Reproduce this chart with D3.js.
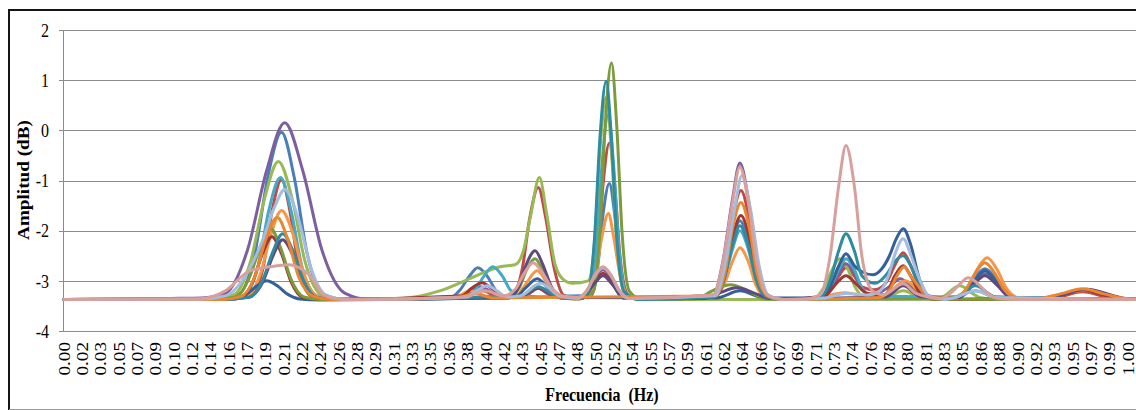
<!DOCTYPE html>
<html>
<head>
<meta charset="utf-8">
<script src="https://cdnjs.cloudflare.com/ajax/libs/d3/7.8.5/d3.min.js"></script>
<style>
    body { margin: 0; background: #fff; }
    text { font-family: 'Liberation Serif', 'Times New Roman', serif; fill: #000; }
</style>
</head>
<body>
<div id="chart"></div>
<script>
'use strict';

// axis values
const Y_TICKS = [2, 1, 0, -1, -2, -3, -4];
const X_LABELS = ['0.00', '0.02', '0.03', '0.05', '0.07', '0.09', '0.10', '0.12', '0.14', '0.16',
    '0.17', '0.19', '0.21', '0.22', '0.24', '0.26', '0.28', '0.29', '0.31', '0.33',
    '0.35', '0.36', '0.38', '0.40', '0.42', '0.43', '0.45', '0.47', '0.48', '0.50',
    '0.52', '0.54', '0.55', '0.57', '0.59', '0.61', '0.62', '0.64', '0.66', '0.67',
    '0.69', '0.71', '0.73', '0.74', '0.76', '0.78', '0.80', '0.81', '0.83', '0.85',
    '0.86', '0.88', '0.90', '0.92', '0.93', '0.95', '0.97', '0.99', '1.00'];
const X_LAST = 1.0028; // real frequency under the last label

// series: [frecuencia (Hz), amplitud (dB)]
const sBlue = [[0, -3.37], [0.128, -3.36], [0.165, -3.26], [0.180, -2.44], [0.192, -0.94], [0.205, -0.04], [0.217, -0.94], [0.229, -2.44], [0.244, -3.26], [0.265, -3.37],
    [0.363, -3.35], [0.373, -3.19], [0.382, -2.91], [0.390, -2.74], [0.399, -2.91], [0.407, -3.19], [0.418, -3.33],
    [0.434, -3.3], [0.447, -3.15], [0.460, -3.3],
    [0.497, -3.29], [0.503, -2.72], [0.508, -1.68], [0.514, -1.06], [0.519, -1.68], [0.524, -2.72], [0.531, -3.29], [0.543, -3.36],
    [0.613, -3.32], [0.622, -2.93], [0.630, -2.22], [0.637, -1.8], [0.645, -2.22], [0.652, -2.93], [0.662, -3.32], [0.675, -3.37],
    [0.839, -3.35], [0.850, -3.2], [0.859, -2.92], [0.868, -2.76], [0.877, -2.92], [0.886, -3.2], [0.897, -3.35], [1.02, -3.37]];

const sRed = [[0, -3.37], [0.15, -3.36], [0.177, -3.29], [0.188, -2.70], [0.196, -1.62], [0.205, -0.98], [0.213, -1.62], [0.221, -2.70], [0.232, -3.29], [0.246, -3.37],
    [0.37, -3.34], [0.395, -3.2], [0.41, -3.33],
    [0.422, -3.29], [0.432, -2.75], [0.439, -1.74], [0.447, -1.14], [0.454, -1.74], [0.462, -2.75], [0.471, -3.29], [0.482, -3.36],
    [0.497, -3.26], [0.503, -2.50], [0.508, -1.09], [0.514, -0.25], [0.519, -1.09], [0.524, -2.50], [0.531, -3.26], [0.543, -3.37],
    [0.614, -3.30], [0.623, -2.76], [0.630, -1.79], [0.638, -1.2], [0.646, -1.79], [0.653, -2.76], [0.663, -3.30], [0.675, -3.37],
    [0.713, -3.35], [0.722, -3.19], [0.730, -2.91], [0.737, -2.74], [0.745, -2.91], [0.752, -3.12], [0.764, -3.18],
    [0.776, -3.0], [0.783, -2.69], [0.791, -2.44], [0.798, -2.69], [0.806, -3.11], [0.815, -3.34], [0.830, -3.37],
    [0.929, -3.36], [0.960, -3.22], [0.991, -3.36], [1.02, -3.37]];

const sGreen = [[0, -3.37], [0.14, -3.36], [0.160, -3.28], [0.176, -2.60], [0.189, -1.36], [0.202, -0.62], [0.215, -1.36], [0.227, -2.60], [0.243, -3.28], [0.265, -3.37],
    [0.317, -3.35], [0.354, -3.2], [0.383, -2.95], [0.402, -2.78], [0.411, -2.72], [0.425, -2.68], [0.433, -2.4], [0.440, -1.68], [0.448, -0.94], [0.455, -1.68], [0.463, -2.69], [0.472, -3.0], [0.479, -3.05],
    [0.494, -3.0], [0.500, -2.24], [0.505, -0.43], [0.511, 0.66], [0.516, -0.43], [0.521, -2.24], [0.528, -3.23], [0.543, -3.37],
    [0.700, -3.37], [0.708, -3.34], [0.716, -3.14], [0.724, -2.78], [0.731, -2.56], [0.739, -2.78], [0.746, -3.14], [0.756, -3.34],
    [0.774, -3.33], [0.791, -3.2], [0.808, -3.33],
    [0.826, -3.33], [0.844, -3.1], [0.863, -3.33], [0.88, -3.37], [1.02, -3.37]];

const sPurple = [[0, -3.37], [0.10, -3.35], [0.13, -3.34], [0.152, -3.25], [0.173, -2.38], [0.191, -0.8], [0.208, 0.15], [0.225, -0.8], [0.243, -2.38], [0.265, -3.25], [0.288, -3.37],
    [0.373, -3.3], [0.392, -3.12], [0.411, -3.3],
    [0.434, -3.3], [0.447, -3.15], [0.460, -3.3],
    [0.484, -3.35], [0.493, -3.2], [0.500, -2.94], [0.508, -2.78], [0.516, -2.94], [0.523, -3.2], [0.532, -3.35],
    [0.612, -3.28], [0.621, -2.61], [0.630, -1.38], [0.637, -0.65], [0.645, -1.38], [0.653, -2.61], [0.663, -3.28], [0.677, -3.37],
    [0.713, -3.35], [0.722, -3.17], [0.730, -2.85], [0.737, -2.66], [0.745, -2.85], [0.752, -3.17], [0.762, -3.28],
    [0.779, -3.1], [0.788, -2.96], [0.798, -3.1], [0.809, -3.28],
    [0.840, -3.35], [0.850, -3.23], [0.859, -3.0], [0.868, -2.86], [0.877, -3.0], [0.886, -3.23], [0.897, -3.35], [1.02, -3.37]];

const sAqua = [[0, -3.37], [0.15, -3.37], [0.170, -3.29], [0.183, -2.69], [0.193, -1.6], [0.204, -0.94], [0.214, -1.6], [0.224, -2.69], [0.238, -3.29], [0.255, -3.37],
    [0.377, -3.35], [0.387, -3.19], [0.396, -2.9], [0.404, -2.72], [0.413, -2.9], [0.421, -3.19], [0.432, -3.3], [0.46, -3.32],
    [0.485, -3.33], [0.496, -3.25], [0.502, -2.34], [0.507, -0.69], [0.513, 0.3], [0.518, -0.69], [0.523, -2.34], [0.530, -3.25], [0.543, -3.37],
    [0.613, -3.32], [0.622, -2.99], [0.630, -2.37], [0.637, -2.0], [0.645, -2.37], [0.652, -2.99], [0.662, -3.32], [0.675, -3.37],
    [0.713, -3.34], [0.722, -3.14], [0.730, -2.78], [0.737, -2.56], [0.745, -2.78], [0.752, -3.14], [0.762, -3.3],
    [0.79, -3.31], [0.84, -3.32], [0.859, -3.2], [0.878, -3.32], [1.02, -3.37]];

const sOrange = [[0, -3.37], [0.15, -3.37], [0.172, -3.31], [0.185, -2.87], [0.195, -2.08], [0.205, -1.6], [0.216, -2.08], [0.226, -2.87], [0.239, -3.31], [0.255, -3.37],
    [0.369, -3.32], [0.383, -3.2], [0.397, -3.3],
    [0.425, -3.33], [0.434, -3.1], [0.446, -2.8], [0.457, -3.1], [0.467, -3.3],
    [0.486, -3.34], [0.495, -3.31], [0.501, -2.89], [0.507, -2.12], [0.513, -1.66], [0.518, -2.12], [0.524, -2.89], [0.531, -3.31], [0.543, -3.37],
    [0.613, -3.33], [0.622, -3.08], [0.630, -2.62], [0.637, -2.34], [0.645, -2.62], [0.652, -3.08], [0.662, -3.33], [0.68, -3.37],
    [0.708, -3.35], [0.736, -3.24], [0.764, -3.34],
    [0.774, -3.3], [0.793, -3.0], [0.812, -3.3],
    [0.841, -3.34], [0.852, -3.14], [0.861, -2.76], [0.870, -2.54], [0.879, -2.76], [0.888, -3.14], [0.899, -3.34], [0.912, -3.37],
    [0.920, -3.35], [0.939, -3.27], [0.962, -3.19], [0.984, -3.27], [1.0, -3.35], [1.02, -3.37]];

const sDarkBlue = [[0, -3.37], [0.14, -3.37], [0.161, -3.36], [0.172, -3.27], [0.182, -3.1], [0.191, -3.0], [0.201, -3.1], [0.211, -3.27], [0.222, -3.36], [0.24, -3.38],
    [0.425, -3.33], [0.435, -3.14], [0.446, -2.96], [0.456, -3.14], [0.467, -3.33],
    [0.615, -3.34], [0.637, -3.2], [0.66, -3.34],
    [0.713, -3.34], [0.722, -3.12], [0.730, -2.71], [0.737, -2.46], [0.745, -2.7], [0.752, -2.82], [0.762, -2.88], [0.770, -2.78], [0.778, -2.5], [0.784, -2.18], [0.791, -1.96], [0.798, -2.28], [0.806, -2.95], [0.815, -3.3], [0.830, -3.37],
    [0.843, -3.33], [0.856, -3.05], [0.868, -2.8], [0.880, -3.05], [0.894, -3.33], [1.02, -3.37]];

const sDarkRed = [[0, -3.37], [0.15, -3.37], [0.167, -3.33], [0.178, -3.02], [0.187, -2.46], [0.196, -2.12], [0.205, -2.46], [0.214, -3.02], [0.225, -3.33], [0.241, -3.37],
    [0.375, -3.3], [0.384, -3.15], [0.394, -3.04], [0.403, -3.15], [0.413, -3.3],
    [0.430, -3.32], [0.447, -3.15], [0.464, -3.32],
    [0.489, -3.34], [0.499, -3.05], [0.508, -2.85], [0.517, -3.05], [0.527, -3.34],
    [0.614, -3.31], [0.623, -2.90], [0.630, -2.15], [0.638, -1.7], [0.646, -2.15], [0.653, -2.90], [0.663, -3.31], [0.675, -3.37],
    [0.717, -3.3], [0.728, -3.05], [0.737, -2.9], [0.746, -3.05], [0.757, -3.25],
    [0.774, -3.28], [0.783, -2.9], [0.791, -2.7], [0.798, -2.9], [0.808, -3.28], [0.82, -3.37],
    [0.925, -3.35], [0.943, -3.26], [0.960, -3.18], [0.977, -3.26], [0.995, -3.35], [1.02, -3.37]];

const sOlive = [[0, -3.37], [0.14, -3.37], [0.162, -3.32], [0.174, -2.97], [0.185, -2.33], [0.194, -1.94], [0.204, -2.33], [0.214, -2.97], [0.226, -3.32], [0.241, -3.37],
    [0.419, -3.34], [0.429, -3.14], [0.436, -2.78], [0.444, -2.56], [0.451, -2.78], [0.459, -3.14], [0.468, -3.34],
    [0.485, -3.36], [0.499, -3.21], [0.505, -2.05], [0.510, 0.07], [0.516, 1.34], [0.521, 0.07], [0.526, -2.05], [0.533, -3.21], [0.545, -3.37],
    [0.595, -3.36], [0.611, -3.2], [0.628, -3.08], [0.645, -3.2], [0.661, -3.36], [1.02, -3.37]];

const sDarkPurple = [[0, -3.37], [0.15, -3.37], [0.174, -3.33], [0.187, -3.04], [0.197, -2.50], [0.206, -2.18], [0.216, -2.50], [0.226, -3.04], [0.238, -3.33], [0.255, -3.37],
    [0.419, -3.34], [0.429, -3.10], [0.436, -2.66], [0.444, -2.4], [0.451, -2.66], [0.459, -3.10], [0.468, -3.34],
    [0.489, -3.34], [0.499, -3.08], [0.508, -2.9], [0.517, -3.08], [0.527, -3.34],
    [0.604, -3.35], [0.618, -3.24], [0.634, -3.14], [0.650, -3.24], [0.665, -3.35],
    [0.774, -3.32], [0.791, -3.1], [0.808, -3.32],
    [0.844, -3.33], [0.856, -3.1], [0.868, -2.9], [0.880, -3.1], [0.892, -3.33],
    [0.925, -3.35], [0.964, -3.17], [1.0, -3.35], [1.02, -3.37]];

const sTeal = [[0, -3.37], [0.15, -3.37], [0.174, -3.33], [0.187, -3.0], [0.197, -2.41], [0.206, -2.06], [0.216, -2.41], [0.226, -3.0], [0.238, -3.33], [0.255, -3.37],
    [0.43, -3.3], [0.447, -3.12], [0.464, -3.3],
    [0.484, -3.33], [0.494, -3.22], [0.500, -2.15], [0.505, -0.19], [0.511, 0.98], [0.516, -0.19], [0.521, -2.15], [0.528, -3.22], [0.541, -3.37],
    [0.613, -3.32], [0.622, -2.96], [0.630, -2.3], [0.637, -1.9], [0.645, -2.3], [0.652, -2.96], [0.662, -3.32], [0.675, -3.37],
    [0.713, -3.33], [0.722, -3.0], [0.730, -2.41], [0.737, -2.06], [0.745, -2.41], [0.752, -2.9], [0.764, -3.05], [0.776, -2.85], [0.783, -2.62], [0.791, -2.5], [0.798, -2.7], [0.806, -3.1], [0.816, -3.33],
    [0.840, -3.32], [0.859, -3.1], [0.878, -3.32], [1.02, -3.37]];

const sDarkOrange = [[0, -3.37], [0.15, -3.37], [0.167, -3.31], [0.180, -2.91], [0.190, -2.18], [0.201, -1.74], [0.211, -2.18], [0.221, -2.91], [0.235, -3.31], [0.251, -3.37],
    [0.37, -3.34], [0.387, -3.25], [0.404, -3.34],
    [0.614, -3.30], [0.623, -2.83], [0.630, -1.96], [0.638, -1.44], [0.646, -1.96], [0.653, -2.83], [0.663, -3.30], [0.675, -3.37],
    [0.769, -3.33], [0.779, -3.15], [0.785, -2.9], [0.792, -2.72], [0.798, -2.9], [0.807, -3.15], [0.818, -3.33],
    [0.839, -3.34], [0.850, -3.17], [0.859, -2.84], [0.868, -2.64], [0.877, -2.84], [0.886, -3.17], [0.897, -3.34],
    [0.920, -3.35], [0.939, -3.26], [0.960, -3.16], [0.980, -3.26], [1.0, -3.35], [1.02, -3.37]];

const sLightBlue = [[0, -3.37], [0.13, -3.36], [0.152, -3.3], [0.171, -2.9], [0.187, -2.2], [0.199, -1.5], [0.208, -1.18], [0.221, -1.77], [0.233, -2.76], [0.248, -3.30], [0.265, -3.37],
    [0.380, -3.32], [0.389, -3.2], [0.399, -3.1], [0.408, -3.2], [0.418, -3.32],
    [0.430, -3.3], [0.449, -3.05], [0.467, -3.3],
    [0.484, -3.35], [0.493, -3.19], [0.500, -2.91], [0.508, -2.74], [0.516, -2.91], [0.523, -3.19], [0.532, -3.35],
    [0.614, -3.29], [0.623, -2.68], [0.632, -1.57], [0.639, -0.9], [0.647, -1.57], [0.655, -2.68], [0.664, -3.29], [0.680, -3.37],
    [0.717, -3.34], [0.737, -3.25], [0.757, -3.28], [0.769, -3.2], [0.777, -2.9], [0.783, -2.48], [0.791, -2.16], [0.798, -2.48], [0.806, -2.95], [0.815, -3.3], [0.830, -3.37],
    [0.840, -3.33], [0.859, -3.2], [0.878, -3.33], [1.02, -3.37]];

const sPink = [[0, -3.37], [0.128, -3.36], [0.152, -3.2], [0.175, -2.8], [0.194, -2.72], [0.211, -2.68], [0.225, -2.78], [0.234, -2.95], [0.243, -3.25], [0.255, -3.35], [0.27, -3.37],
    [0.378, -3.32], [0.397, -3.2], [0.414, -3.3],
    [0.426, -3.15], [0.434, -2.84], [0.442, -2.64], [0.451, -2.84], [0.459, -3.12], [0.470, -3.3],
    [0.484, -3.33], [0.493, -3.18], [0.500, -2.9], [0.508, -2.72], [0.516, -2.9], [0.523, -3.18], [0.533, -3.35],
    [0.612, -3.28], [0.621, -2.63], [0.630, -1.44], [0.637, -0.73], [0.645, -1.44], [0.653, -2.63], [0.663, -3.28], [0.677, -3.37],
    [0.700, -3.36], [0.713, -3.27], [0.722, -2.51], [0.730, -1.13], [0.737, -0.3], [0.745, -1.13], [0.752, -2.51], [0.762, -3.2], [0.772, -3.28],
    [0.791, -3.06], [0.803, -3.25],
    [0.826, -3.35], [0.837, -3.22], [0.845, -3.05], [0.852, -2.94], [0.861, -3.05], [0.869, -3.22], [0.880, -3.35], [0.9, -3.37], [1.02, -3.37]];

const SERIES = [sBlue, sRed, sGreen, sPurple, sAqua, sOrange, sDarkBlue, sDarkRed,
    sOlive, sDarkPurple, sTeal, sDarkOrange, sLightBlue, sPink];
const SERIES_COLORS = ['#4a7ebb', '#be4b48', '#98b954', '#7d5fa0', '#46aac5', '#f79646', '#34609a', '#9c3836',
    '#7c9c3c', '#5e4a7e', '#2e8ba0', '#ea8530', '#a3bde0', '#d8a09d'];


class Spectrum {

    constructor(_ref) {
        this.parent = _ref;
        this.initVis();
    }

    initVis() {
        const vis = this;

        // Config
        vis.w = 1136;
        vis.h = 410;
        vis.left = 64;
        vis.right = 1128;   // x of the last label
        vis.top = 30;
        vis.bottom = 331;
        vis.stretch = 'scale(1,1.2)';

        vis.svg = d3.select(`#${vis.parent}`)
            .append('svg')
            .attr('width', vis.w)
            .attr('height', vis.h);

        // Scales
        vis.xScale = d3.scaleLinear()
            .domain([0, X_LAST])
            .range([vis.left, vis.right]);

        vis.yScale = d3.scaleLinear()
            .domain([-4, 2])
            .range([vis.bottom, vis.top]);

        vis.line = d3.line()
            .x(d => vis.xScale(d[0]))
            .y(d => vis.yScale(d[1]))
            .curve(d3.curveMonotoneX);

        vis.drawFrame();
        vis.drawAxes();
        vis.updateVis();
    }

    drawFrame() {
        const vis = this;

        vis.svg.append('line')
            .attr('x1', 8).attr('x2', vis.w)
            .attr('y1', 10).attr('y2', 10)
            .attr('stroke', '#151515').attr('stroke-width', 2);

        vis.svg.append('line')
            .attr('x1', 9).attr('x2', 9)
            .attr('y1', 9).attr('y2', vis.h)
            .attr('stroke', '#151515').attr('stroke-width', 2);

        vis.svg.append('line')
            .attr('x1', 9).attr('x2', vis.w)
            .attr('y1', 409.5).attr('y2', 409.5)
            .attr('stroke', '#9a9a9a').attr('stroke-width', 1);
    }

    drawAxes() {
        const vis = this;
        const px = v => Math.round(vis.yScale(v)) + 0.5;

        // Gridlines + y ticks
        vis.svg.append('g')
            .selectAll('line')
            .data(Y_TICKS)
            .join('line')
            .attr('x1', vis.left - 5)
            .attr('x2', vis.w)
            .attr('y1', d => px(d))
            .attr('y2', d => px(d))
            .attr('stroke', '#8c8c8c')
            .attr('stroke-width', 1);

        // y axis line
        vis.svg.append('line')
            .attr('x1', vis.left - 0.5).attr('x2', vis.left - 0.5)
            .attr('y1', px(2)).attr('y2', px(-4))
            .attr('stroke', '#8c8c8c');

        // y tick labels
        vis.svg.append('g')
            .selectAll('text')
            .data(Y_TICKS)
            .join('text')
            .attr('transform', d => `translate(49,${vis.yScale(d)}) ${vis.stretch}`)
            .attr('dy', '0.35em')
            .attr('text-anchor', 'end')
            .style('font-size', '16px')
            .text(d => d);

        // x tick labels
        vis.svg.append('g')
            .selectAll('text')
            .data(X_LABELS)
            .join('text')
            .attr('transform', (d, i) => `translate(${vis.xScale(i * X_LAST / (X_LABELS.length - 1))},342) ${vis.stretch} rotate(-90)`)
            .attr('dy', '0.35em')
            .attr('text-anchor', 'end')
            .style('font-size', '16px')
            .text(d => d);

        // Titles
        vis.svg.append('text')
            .attr('transform', `translate(29,180) ${vis.stretch} rotate(-90)`)
            .attr('text-anchor', 'middle')
            .style('font-size', '16px')
            .style('font-weight', 'bold')
            .text('Amplitud (dB)');

        vis.svg.append('text')
            .attr('transform', `translate(602,401) ${vis.stretch}`)
            .attr('text-anchor', 'middle')
            .style('font-size', '16px')
            .style('font-weight', 'bold')
            .style('white-space', 'pre')
            .text('Frecuencia  (Hz)');
    }

    updateVis() {
        const vis = this;

        vis.svg.append('g')
            .attr('class', 'seriesG')
            .selectAll('path')
            .data(SERIES)
            .join('path')
            .attr('d', vis.line)
            .attr('fill', 'none')
            .attr('stroke', (d, i) => SERIES_COLORS[i])
            .attr('stroke-width', 3)
            .attr('stroke-linejoin', 'round')
            .attr('stroke-linecap', 'round');
    }
}

new Spectrum('chart');
</script>
</body>
</html>
